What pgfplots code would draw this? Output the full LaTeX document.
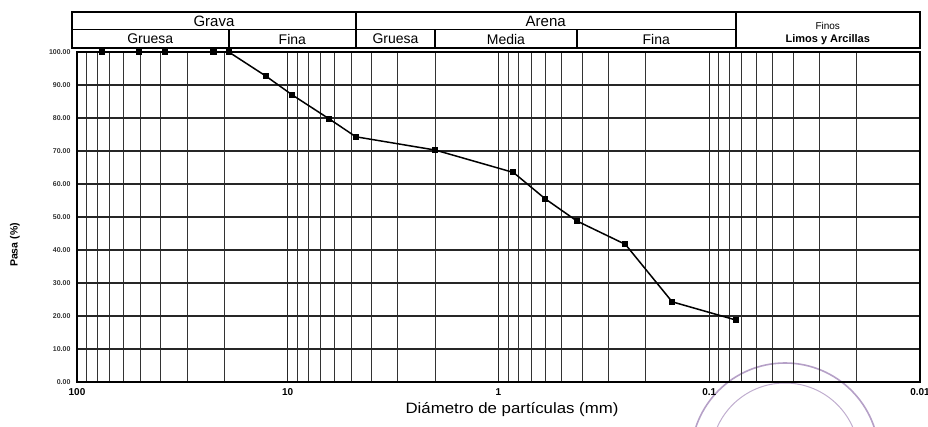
\documentclass[border=0pt]{standalone}
\usepackage{fontspec}
\setmainfont{Liberation Sans}
\usepackage{pgfplots}
\pgfplotsset{compat=1.18}
\definecolor{seal}{RGB}{150,120,175}
\begin{document}
\begin{tikzpicture}[x=1pt,y=1pt]
\useasboundingbox (0,0) rectangle (928,427);
\begin{scope}
\clip (0,0) rectangle (928,427);
\draw[seal, line width=1.6pt, opacity=0.7] (785,-30) circle (94);
\draw[seal, line width=1pt, opacity=0.6] (785,-30) circle (74);
\end{scope}
\begin{axis}[
  at={(77pt,45pt)}, anchor=south west,
  scale only axis, width=843pt, height=330pt,
  xmode=log, x dir=reverse, xmin=0.01, xmax=100,
  ymin=0, ymax=100,
  xtick={0.01,0.1,1,10,100}, xticklabels={0.01,0.1,1,10,100},
  ytick={0,10,...,100},
  /pgf/number format/assume math mode=true,
  yticklabel style={/pgf/number format/fixed, /pgf/number format/fixed zerofill, /pgf/number format/precision=2, font=\fontsize{7}{8}\selectfont\bfseries, text=black!80, xshift=-3pt},
  xticklabel style={font=\fontsize{10}{12}\selectfont\bfseries, yshift=-3pt},
  grid=both,
  major grid style={black!85, line width=1.1pt},
  minor grid style={black!80, line width=1pt},
  major tick length=0pt, minor tick length=0pt,
  axis line style={line width=1.6pt},
  clip=false,
]
\addplot[black, line width=1.5pt, mark=square*, mark size=2.3pt] coordinates {
 (76.2,100) (50.8,100) (38.1,100) (22.5,100) (19.05,100)
 (12.7,92.7) (9.525,87.0) (6.35,79.7) (4.75,74.3) (2.0,70.3)
 (0.85,63.5) (0.6,55.5) (0.425,48.8) (0.25,41.7) (0.15,24.3) (0.075,18.8)
};
% header table
\draw[line width=1.8pt] (axis cs:105.6,101.2) rectangle (axis cs:0.01,112.1);
\draw[line width=1.8pt] (axis cs:105.6,106.8) -- (axis cs:0.075,106.8);
\draw[line width=1.8pt] (axis cs:4.75,101.2) -- (axis cs:4.75,112.1);
\draw[line width=1.8pt] (axis cs:0.075,101.2) -- (axis cs:0.075,112.1);
\draw[line width=1.8pt] (axis cs:19.05,101.2) -- (axis cs:19.05,106.8);
\draw[line width=1.8pt] (axis cs:2.0,101.2) -- (axis cs:2.0,106.8);
\draw[line width=1.8pt] (axis cs:0.425,101.2) -- (axis cs:0.425,106.8);
\node[font=\fontsize{15}{16}\selectfont] at (axis cs:22.4,109.4) {Grava};
\node[font=\fontsize{15}{16}\selectfont] at (axis cs:0.597,109.4) {Arena};
\node[font=\fontsize{14}{15}\selectfont] at (axis cs:44.9,103.9) {Gruesa};
\node[font=\fontsize{14}{15}\selectfont] at (axis cs:9.51,103.9) {Fina};
\node[font=\fontsize{14}{15}\selectfont] at (axis cs:3.08,103.9) {Gruesa};
\node[font=\fontsize{14}{15}\selectfont] at (axis cs:0.922,103.9) {Media};
\node[font=\fontsize{14}{15}\selectfont] at (axis cs:0.1785,103.9) {Fina};
\node[font=\fontsize{10}{11}\selectfont] at (axis cs:0.0274,108.0) {Finos};
\node[font=\fontsize{11}{12}\selectfont\bfseries] at (axis cs:0.0274,103.8) {Limos y Arcillas};
\end{axis}
\node[rotate=90, font=\fontsize{10.5}{12}\selectfont\bfseries] at (15,182) {Pasa (\%)};
\node[font=\fontsize{15}{16}\selectfont, xscale=1.12] at (512,17) {Diámetro de partículas (mm)};
\end{tikzpicture}
\end{document}
